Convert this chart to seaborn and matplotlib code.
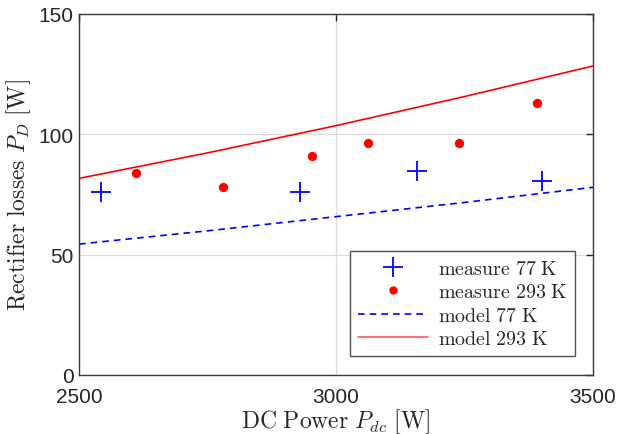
import numpy as np
import pandas as pd
import seaborn as sns
import matplotlib
matplotlib.use("Agg")
import matplotlib.pyplot as plt
from matplotlib.lines import Line2D

# Data
meas77_x = [2543, 2930, 3158, 3400]
meas77_y = [76.0, 76.0, 84.8, 80.7]
meas293_x = [2611, 2781, 2953, 3063, 3239, 3391]
meas293_y = [83.9, 78.1, 90.8, 96.4, 96.4, 113.0]
model_x = [2500, 2750, 3000, 3250, 3500]
model77_y = [54.4, 59.9, 65.8, 71.7, 78.0]
model293_y = [81.7, 92.3, 103.6, 115.7, 128.4]

sns.set_style("white")
plt.rcParams["font.family"] = ["Liberation Sans", "DejaVu Sans"]
plt.rcParams["mathtext.fontset"] = "cm"

fig = plt.figure(figsize=(6.18, 4.35), dpi=100)
ax = fig.add_axes([79/618, 1-376/435, (593-79)/618, (376-15)/435])

sns.lineplot(x=model_x, y=model77_y, ax=ax, color="#0000ff", linestyle="--",
             linewidth=1.2, label="_m77")
ax.lines[-1].set_dashes([4, 3])
sns.lineplot(x=model_x, y=model293_y, ax=ax, color="#ff0000", linewidth=1.2, label="_m293")
sns.scatterplot(x=meas77_x, y=meas77_y, ax=ax, marker="+", s=200, color="#0000ff",
                linewidth=1.3, label="_p77", zorder=3)
sns.scatterplot(x=meas293_x, y=meas293_y, ax=ax, marker="o", s=45, color="#ff0000",
                edgecolor="#ff0000", linewidth=0, label="_p293", zorder=3)

ax.set_xlim(2500, 3500)
ax.set_ylim(0, 150)
ax.set_xticks([2500, 3000, 3500])
ax.set_yticks([0, 50, 100, 150])
ax.grid(True, color="#dcdcdc", linewidth=0.9)
ax.set_axisbelow(True)
ax.tick_params(direction="in", top=True, right=True, length=5, width=1,
               color="#262626", labelsize=15, labelcolor="#262626", pad=4)
ax.tick_params(axis="x", pad=9)
for s in ax.spines.values():
    s.set_color("#3a3a3a")
    s.set_linewidth(1.0)

ax.set_xlabel(r"$\mathrm{DC\ Power}\ P_{dc}\ \mathrm{[W]}$", fontsize=17, color="#262626", labelpad=0)
ax.set_ylabel(r"$\mathrm{Rectifier\ losses}\ P_D\ \mathrm{[W]}$", fontsize=17, color="#262626", labelpad=4)

handles = [
    Line2D([], [], color="#0000ff", marker="+", linestyle="none", markersize=14, markeredgewidth=1.3),
    Line2D([], [], color="#ff0000", marker="o", linestyle="none", markersize=6, markeredgewidth=0),
    Line2D([], [], color="#0000ff", linestyle=(0, (4, 3)), linewidth=1.2),
    Line2D([], [], color="#ff5555", linewidth=1.2),
]
labels = [r"$\mathrm{measure\ 77\ K}$", r"$\mathrm{measure\ 293\ K}$",
          r"$\mathrm{model\ 77\ K}$", r"$\mathrm{model\ 293\ K}$"]
leg = ax.legend(handles, labels, loc="lower right", bbox_to_anchor=(0.965, 0.053),
                borderaxespad=0,
                fontsize=14.4, frameon=True, fancybox=False, edgecolor="#262626",
                handlelength=3.5, labelspacing=0.22, borderpad=0.38, handletextpad=0.5)
leg.get_frame().set_linewidth(1.0)

fig.savefig("out.png", dpi=100)
